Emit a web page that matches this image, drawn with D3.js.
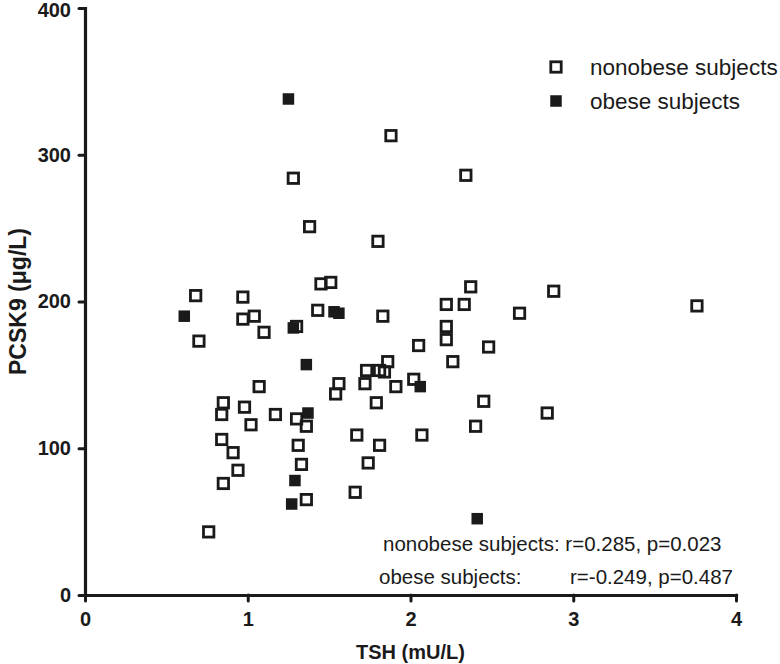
<!DOCTYPE html>
<html>
<head>
<meta charset="utf-8">
<script src="https://cdn.jsdelivr.net/npm/d3@7"></script>
<style>
  html, body { margin: 0; padding: 0; background: #fff; }
  svg { display: block; font-family: "Liberation Sans", Arial, Helvetica, sans-serif; }
</style>
</head>
<body>
<svg id="chart" width="780" height="664"></svg>
<script>
// ---- data ----
const nonobeseTSH = [0.76,0.68,0.70,0.97,0.97,1.04,1.10,1.30,1.07,0.85,0.98,0.84,1.17,1.30,1.36,1.02,0.84,1.31,0.91,0.94,1.33,0.85,1.36,1.28,1.88,2.34,1.38,1.80,1.45,1.51,1.43,1.83,2.37,2.22,2.33,2.88,2.67,2.22,2.22,2.05,2.48,2.26,1.86,1.73,1.81,1.84,1.56,1.54,1.72,1.91,2.02,2.45,1.79,2.84,1.67,1.81,2.07,2.40,1.74,1.66,3.76];
const nonobesePCSK9 = [43,204,173,203,188,190,179,183,142,131,128,123,123,120,115,116,106,102,97,85,89,76,65,284,313,286,251,241,212,213,194,190,210,198,198,207,192,183,174,170,169,159,159,153,153,152,144,137,144,142,147,132,131,124,109,102,109,115,90,70,197];
const obeseTSH = [0.61,1.28,1.36,1.37,1.29,1.27,1.25,1.53,1.56,2.06,2.41];
const obesePCSK9 = [190,182,157,124,78,62,338,193,192,142,52];
const xTicks = [0,1,2,3,4];
const yTicks = [0,100,200,300,400];
const legendLabels = ["nonobese subjects", "obese subjects"];
const statsLabels = ["nonobese subjects:", "obese subjects:"];
const statsValues = ["r=0.285, p=0.023", "r=-0.249, p=0.487"];

// ---- layout ----
const svg = d3.select("#chart");
const m = {left: 85, top: 8, right: 44, bottom: 69};
const W = 780 - m.left - m.right, H = 664 - m.top - m.bottom;
const g = svg.append("g").attr("transform", `translate(${m.left},${m.top})`);
const x = d3.scaleLinear().domain([0,4]).range([0,W]);
const y = d3.scaleLinear().domain([0,400]).range([H,0]);
const ink = "#1a1a1a";

// axes
const xAxis = g.append("g").attr("transform", `translate(0,${H})`)
  .call(d3.axisBottom(x).tickValues(xTicks).tickFormat(d3.format("d")).tickSize(6).tickSizeOuter(0).tickPadding(11));
const yAxis = g.append("g")
  .call(d3.axisLeft(y).tickValues(yTicks).tickFormat(d3.format("d")).tickSize(6).tickSizeOuter(0).tickPadding(8));
[xAxis, yAxis].forEach(a => {
  a.select(".domain").attr("stroke", ink).attr("stroke-width", 3.2).attr("stroke-linecap", "square");
  a.selectAll(".tick line").attr("stroke", ink).attr("stroke-width", 3).attr("stroke-linecap", "round");
  a.selectAll(".tick text").attr("fill", ink).attr("font-size", 20).attr("font-weight", "bold")
    .attr("font-family", "'Liberation Sans', Arial, sans-serif");
});
yAxis.selectAll(".tick text").filter(d => d === 400).attr("dy", "0.42em");

// axis titles
svg.append("text").attr("x", m.left + W/2).attr("y", 659).attr("text-anchor", "middle")
  .attr("font-size", 20).attr("font-weight", "bold").attr("fill", ink).text("TSH (mU/L)");
svg.append("text").attr("transform", `translate(26,${m.top + H/2}) rotate(-90)`).attr("text-anchor", "middle")
  .attr("font-size", 23).attr("font-weight", "bold").attr("fill", ink).text("PCSK9 (\u03bcg/L)");

// points
const openS = 10.4, fillS = 11.5;
g.selectAll("rect.open").data(d3.range(nonobeseTSH.length)).join("rect").attr("class","open")
  .attr("x", i => x(nonobeseTSH[i]) - openS/2).attr("y", i => y(nonobesePCSK9[i]) - openS/2)
  .attr("width", openS).attr("height", openS)
  .attr("fill", "none").attr("stroke", ink).attr("stroke-width", 2.8);
g.selectAll("rect.filled").data(d3.range(obeseTSH.length)).join("rect").attr("class","filled")
  .attr("x", i => x(obeseTSH[i]) - fillS/2).attr("y", i => y(obesePCSK9[i]) - fillS/2)
  .attr("width", fillS).attr("height", fillS).attr("fill", ink);

// legend
const leg = svg.append("g");
leg.append("rect").attr("x", 556 - openS/2).attr("y", 67 - openS/2).attr("width", openS).attr("height", openS)
  .attr("fill", "none").attr("stroke", ink).attr("stroke-width", 2.8);
leg.append("rect").attr("x", 556 - fillS/2).attr("y", 101 - fillS/2).attr("width", fillS).attr("height", fillS).attr("fill", ink);
leg.selectAll("text").data(legendLabels).join("text")
  .attr("x", 590).attr("y", (d,i) => 75 + i*34).attr("font-size", 22.5).attr("fill", ink).text(d => d);

// stats annotation
svg.append("text").attr("x", 383).attr("y", 551).attr("font-size", 20.5).attr("fill", ink)
  .text(statsLabels[0] + " " + statsValues[0]);
svg.append("text").attr("x", 379).attr("y", 584).attr("font-size", 20.5).attr("fill", ink).text(statsLabels[1]);
svg.append("text").attr("x", 733).attr("y", 584).attr("text-anchor", "end").attr("font-size", 20.5)
  .attr("fill", ink).text(statsValues[1]);
</script>
</body>
</html>
